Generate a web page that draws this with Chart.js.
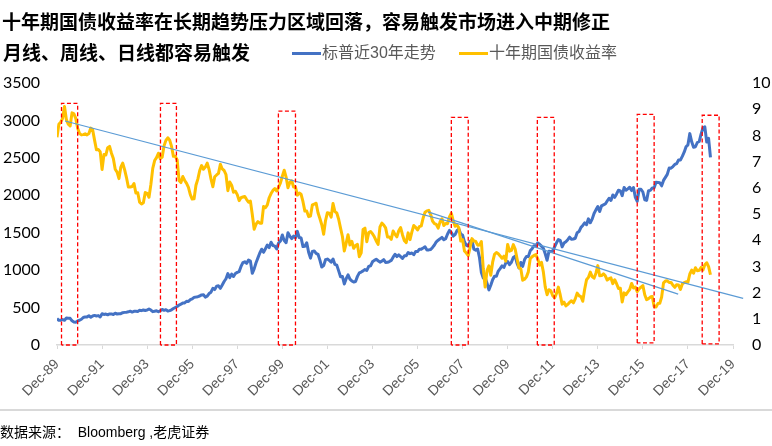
<!DOCTYPE html>
<html lang="zh">
<head>
<meta charset="utf-8">
<title>十年期国债收益率</title>
<script src="https://cdn.jsdelivr.net/npm/chart.js@4.4.1/dist/chart.umd.min.js"></script>
<style>
  body { margin: 0; background: #fff; }
  .lienzo { position: relative; width: 772px; height: 446px; overflow: hidden; background: #fff; }
  .grafico { position: absolute; left: 0; top: 0; width: 772px; height: 446px; }
  .texto { position: absolute; white-space: pre; font-family: "Noto Sans CJK SC", "Liberation Sans", sans-serif; }
  .titulo { left: 2px; top: 8px; font-size: 19px; line-height: 25px; font-weight: 700; color: #000; }
  .subtitulo { left: 3px; top: 39px; font-size: 19px; line-height: 25px; font-weight: 700; color: #000; }
  .leyenda { top: 42px; font-size: 16px; line-height: 22px; color: #595959; font-family: "Liberation Sans", "Noto Sans CJK SC", sans-serif; }
  .raya { position: absolute; height: 3px; top: 52px; }
  .separador { position: absolute; left: 0; top: 409px; width: 772px; height: 2px; background: #d9d9d9; }
  .fuente { left: 0; top: 422px; font-size: 14px; line-height: 20px; color: #000; font-family: "Liberation Sans", "Noto Sans CJK SC", sans-serif; }
</style>
</head>
<body>
<div class="lienzo">
  <div class="grafico"><canvas id="myChart"></canvas></div>
  <div class="texto titulo">十年期国债收益率在长期趋势压力区域回落，容易触发市场进入中期修正</div>
  <div class="texto subtitulo">月线、周线、日线都容易触发</div>
  <div class="raya" style="left:292px;width:29px;background:#4472C4"></div>
  <div class="texto leyenda" style="left:322px">标普近30年走势</div>
  <div class="raya" style="left:459px;width:29px;background:#FFC000"></div>
  <div class="texto leyenda" style="left:489px">十年期国债收益率</div>
  <div class="separador"></div>
  <div class="texto fuente">数据来源：  Bloomberg ,老虎证券</div>
</div>
<script>
// month-end values, Dec-89 .. Dec-18 (one row per year)
const spx = [
  353.4,
  329.1, 331.9, 339.9, 330.8, 361.2, 358.0, 356.2, 322.6, 306.1, 304.0, 322.2, 330.2,
  343.9, 367.1, 375.2, 375.4, 389.8, 371.2, 387.8, 395.4, 387.9, 392.5, 375.2, 417.1,
  408.8, 412.7, 403.7, 415.0, 415.4, 408.1, 424.2, 414.0, 417.8, 418.7, 431.4, 435.7,
  438.8, 443.4, 451.7, 440.2, 450.2, 450.5, 448.1, 463.6, 458.9, 467.8, 461.8, 466.5,
  481.6, 467.1, 445.8, 450.9, 456.5, 444.3, 458.3, 475.5, 462.7, 472.4, 453.7, 459.3,
  470.4, 487.4, 500.7, 514.7, 533.4, 544.8, 562.1, 561.9, 584.4, 581.5, 605.4, 615.9,
  636.0, 640.4, 645.5, 654.2, 669.1, 670.6, 640.0, 652.0, 687.3, 705.3, 757.0, 740.7,
  786.2, 790.8, 757.1, 801.3, 848.3, 885.1, 954.3, 899.5, 947.3, 914.6, 955.4, 970.4,
  980.3, 1049.3, 1101.8, 1111.8, 1090.8, 1133.8, 1120.7, 957.3, 1017.0, 1098.7, 1163.6, 1229.2,
  1279.6, 1238.3, 1286.4, 1335.2, 1301.8, 1372.7, 1328.7, 1320.4, 1282.7, 1362.9, 1388.9, 1469.3,
  1394.5, 1366.4, 1498.6, 1452.4, 1420.6, 1454.6, 1430.8, 1517.7, 1436.5, 1429.4, 1315.0, 1320.3,
  1366.0, 1239.9, 1160.3, 1249.5, 1255.8, 1224.4, 1211.2, 1133.6, 1040.9, 1059.8, 1139.5, 1148.1,
  1130.2, 1106.7, 1147.4, 1076.9, 1067.1, 989.8, 911.6, 916.1, 815.3, 885.8, 936.3, 879.8,
  855.7, 841.2, 848.2, 916.9, 963.6, 974.5, 990.3, 1008.0, 996.0, 1050.7, 1058.2, 1111.9,
  1131.1, 1144.9, 1126.2, 1107.3, 1120.7, 1140.8, 1101.7, 1104.2, 1114.6, 1130.2, 1173.8, 1211.9,
  1181.3, 1203.6, 1180.6, 1156.9, 1191.5, 1191.3, 1234.2, 1220.3, 1228.8, 1207.0, 1249.5, 1248.3,
  1280.1, 1280.7, 1294.9, 1310.6, 1270.1, 1270.2, 1276.7, 1303.8, 1335.9, 1377.9, 1400.6, 1418.3,
  1438.2, 1406.8, 1420.9, 1482.4, 1530.6, 1503.4, 1455.3, 1474.0, 1526.8, 1549.4, 1481.1, 1468.4,
  1378.6, 1330.6, 1322.7, 1385.6, 1400.4, 1280.0, 1267.4, 1282.8, 1166.4, 968.8, 896.2, 903.3,
  825.9, 735.1, 797.9, 872.8, 919.1, 919.3, 987.5, 1020.6, 1057.1, 1036.2, 1095.6, 1115.1,
  1073.9, 1104.5, 1169.4, 1186.7, 1089.4, 1030.7, 1101.6, 1049.3, 1141.2, 1183.3, 1180.6, 1257.6,
  1286.1, 1327.2, 1325.8, 1363.6, 1345.2, 1320.6, 1292.3, 1218.9, 1131.4, 1253.3, 1247.0, 1257.6,
  1312.4, 1365.7, 1408.5, 1397.9, 1310.3, 1362.2, 1379.3, 1406.6, 1440.7, 1412.2, 1416.2, 1426.2,
  1498.1, 1514.7, 1569.2, 1597.6, 1630.7, 1606.3, 1685.7, 1633.0, 1681.6, 1756.5, 1805.8, 1848.4,
  1782.6, 1859.5, 1872.3, 1884.0, 1923.6, 1960.2, 1930.7, 2003.4, 1972.3, 2018.1, 2067.6, 2058.9,
  1995.0, 2104.5, 2067.9, 2085.5, 2107.4, 2063.1, 2103.8, 1972.2, 1920.0, 2079.4, 2080.4, 2043.9,
  1940.2, 1932.2, 2059.7, 2065.3, 2097.0, 2098.9, 2173.6, 2171.0, 2168.3, 2126.2, 2198.8, 2238.8,
  2278.9, 2363.6, 2362.7, 2384.2, 2411.8, 2423.4, 2470.3, 2471.7, 2519.4, 2575.3, 2647.6, 2673.6,
  2823.8, 2713.8, 2640.9, 2648.1, 2705.3, 2718.4, 2816.3, 2901.5, 2914.0, 2711.7, 2760.2, 2506.9
];

const ust10y = [
  7.93,
  8.43, 8.51, 8.65, 9.10, 8.60, 8.43, 8.36, 8.86, 8.82, 8.65, 8.27, 8.07,
  8.02, 8.03, 8.06, 8.02, 8.07, 8.28, 8.21, 7.82, 7.45, 7.46, 7.38, 6.70,
  7.27, 7.25, 7.53, 7.58, 7.32, 7.12, 6.71, 6.60, 6.35, 6.79, 6.94, 6.69,
  6.39, 6.03, 6.03, 6.05, 6.16, 5.80, 5.81, 5.45, 5.38, 5.43, 5.82, 5.79,
  5.64, 6.13, 6.74, 7.04, 7.15, 7.32, 7.11, 7.17, 7.60, 7.81, 7.91, 7.82,
  7.58, 7.20, 7.20, 7.06, 6.28, 6.20, 6.43, 6.28, 6.17, 6.02, 5.74, 5.57,
  5.58, 6.10, 6.33, 6.66, 6.85, 6.71, 6.79, 6.94, 6.70, 6.34, 6.04, 6.42,
  6.49, 6.55, 6.90, 6.72, 6.66, 6.50, 5.89, 6.22, 6.10, 5.83, 5.87, 5.74,
  5.51, 5.62, 5.65, 5.67, 5.55, 5.45, 5.49, 4.98, 4.42, 4.61, 4.71, 4.65,
  4.65, 5.29, 5.24, 5.35, 5.62, 5.78, 5.90, 5.97, 5.88, 6.02, 6.19, 6.44,
  6.67, 6.41, 6.00, 6.21, 6.27, 6.03, 6.03, 5.72, 5.80, 5.75, 5.47, 5.11,
  5.11, 4.90, 4.92, 5.35, 5.38, 5.41, 5.05, 4.83, 4.59, 4.23, 4.75, 5.05,
  5.03, 4.88, 5.40, 5.09, 5.04, 4.80, 4.46, 4.14, 3.59, 3.89, 4.21, 3.82,
  3.96, 3.69, 3.80, 3.84, 3.37, 3.52, 4.41, 4.46, 3.94, 4.29, 4.33, 4.25,
  4.13, 3.97, 3.84, 4.51, 4.65, 4.58, 4.47, 4.12, 4.12, 4.03, 4.35, 4.22,
  4.13, 4.36, 4.48, 4.20, 3.98, 3.91, 4.28, 4.02, 4.32, 4.56, 4.49, 4.39,
  4.52, 4.55, 4.85, 5.07, 5.12, 5.14, 4.98, 4.73, 4.63, 4.60, 4.46, 4.70,
  4.82, 4.56, 4.64, 4.63, 4.89, 5.03, 4.74, 4.53, 4.58, 4.47, 3.97, 4.02,
  3.59, 3.51, 3.41, 3.73, 4.06, 3.97, 3.95, 3.81, 3.82, 3.95, 2.92, 2.21,
  2.84, 3.02, 2.66, 3.16, 3.46, 3.53, 3.48, 3.40, 3.31, 3.39, 3.20, 3.84,
  3.58, 3.61, 3.83, 3.66, 3.29, 2.95, 2.91, 2.47, 2.51, 2.60, 2.79, 3.29,
  3.37, 3.42, 3.45, 3.29, 3.05, 3.16, 2.79, 2.22, 1.92, 2.11, 2.07, 1.88,
  1.80, 1.97, 2.21, 1.91, 1.56, 1.64, 1.49, 1.55, 1.63, 1.69, 1.61, 1.76,
  1.98, 1.88, 1.85, 1.67, 2.13, 2.49, 2.58, 2.78, 2.61, 2.55, 2.74, 3.03,
  2.64, 2.65, 2.72, 2.64, 2.48, 2.53, 2.56, 2.34, 2.49, 2.34, 2.16, 2.17,
  1.64, 1.99, 1.92, 2.03, 2.12, 2.35, 2.18, 2.21, 2.04, 2.14, 2.21, 2.27,
  1.92, 1.73, 1.77, 1.83, 1.85, 1.47, 1.45, 1.58, 1.59, 1.83, 2.37, 2.44,
  2.45, 2.39, 2.39, 2.28, 2.20, 2.30, 2.29, 2.12, 2.33, 2.38, 2.41, 2.40,
  2.71, 2.86, 2.74, 2.95, 2.83, 2.85, 2.96, 2.86, 3.06, 3.14, 2.99, 2.68
];

// eje X: meses desde Dec-89
const tickLabels = ["Dec-89", "Dec-91", "Dec-93", "Dec-95", "Dec-97", "Dec-99", "Dec-01", "Dec-03",
  "Dec-05", "Dec-07", "Dec-09", "Dec-11", "Dec-13", "Dec-15", "Dec-17", "Dec-19"];

// recuadros rojos (meses, eje derecho)
const boxStart = [2.4, 55.1, 117.9, 210, 255.8, 309, 343.6];
const boxEnd = [11, 63.6, 127, 219, 264.8, 318, 352.6];
const boxTop = [9.22, 9.22, 8.93, 8.69, 8.69, 8.8, 8.77];
const boxBottom = [0, 0, 0, 0, 0, 0.08, 0.04];

// líneas de tendencia (mes, valor eje derecho)
const trendLong = [[4.3, 8.55], [365.4, 1.78]];
const trendShort = [[197.6, 5.08], [330.8, 1.94]];

const datasets = [];

// recuadros primero, así quedan encima
boxStart.forEach((x0, i) => {
  const x1 = boxEnd[i];
  datasets.push({
    data: [
      { x: x0, y: boxBottom[i] }, { x: x0, y: boxTop[i] }, { x: x1, y: boxTop[i] },
      { x: x1, y: boxBottom[i] }, { x: x0, y: boxBottom[i] }
    ],
    yAxisID: "y1",
    borderColor: "#FF0000",
    borderWidth: 1.3,
    borderDash: [4, 2.5],
    pointRadius: 0,
    clip: false,
  });
});

[trendLong, trendShort].forEach((tr) => {
  datasets.push({
    data: tr.map((p) => ({ x: p[0], y: p[1] })),
    yAxisID: "y1",
    borderColor: "#5B9BD5",
    borderWidth: 1.2,
    pointRadius: 0,
    clip: false,
  });
});

datasets.push({
  label: "十年期国债收益率",
  data: ust10y.map((v, i) => ({ x: i, y: v })),
  yAxisID: "y1",
  borderColor: "#FFC000",
  borderWidth: 3,
  pointRadius: 0,
  borderJoinStyle: "round",
});

datasets.push({
  label: "标普近30年走势",
  data: spx.map((v, i) => ({ x: i, y: v })),
  yAxisID: "y",
  borderColor: "#4472C4",
  borderWidth: 3,
  pointRadius: 0,
  borderJoinStyle: "round",
});

const config = {
  type: "line",
  data: { datasets },
  options: {
    responsive: true,
    maintainAspectRatio: false,
    animation: false,
    layout: { padding: { top: 83, left: 0, right: 0, bottom: 0 } },
    plugins: { legend: { display: false }, tooltip: { enabled: false } },
    scales: {
      x: {
        type: "linear",
        min: 0,
        max: 360,
        afterFit: (s) => { s.height = 101; },
        ticks: {
          stepSize: 24,
          autoSkip: false,
          minRotation: 45,
          maxRotation: 45,
          padding: 7,
          color: "#595959",
          font: { family: "Liberation Sans", size: 14 },
          callback: (v, i) => tickLabels[i],
        },
        grid: { display: true, drawOnChartArea: false, drawTicks: true, tickLength: 4, color: "#d9d9d9", lineWidth: 1 },
        border: { color: "#d9d9d9", width: 1.5 },
      },
      y: {
        position: "left",
        min: 0,
        max: 3500,
        afterFit: (s) => { s.width = 57; },
        ticks: { stepSize: 500, padding: 17, color: "#000", font: { family: "Lato", size: 16 }, callback: (v) => String(v) },
        grid: { display: false, drawTicks: false },
        border: { display: false },
      },
      y1: {
        position: "right",
        min: 0,
        max: 10,
        afterFit: (s) => { s.width = 39; },
        ticks: { stepSize: 1, padding: 19, color: "#000", font: { family: "Lato", size: 16 }, callback: (v) => String(v) },
        grid: { display: false, drawTicks: false },
        border: { display: false },
      },
    },
  },
};

const myChart = document.getElementById("myChart");
new Chart(myChart, config);
</script>
</body>
</html>
